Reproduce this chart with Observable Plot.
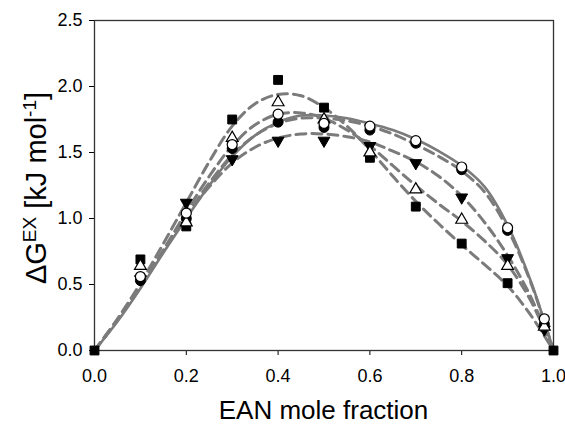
<!DOCTYPE html>
<html><head><meta charset="utf-8">
<script src="https://cdn.jsdelivr.net/npm/d3@7"></script>
<script src="https://cdn.jsdelivr.net/npm/@observablehq/plot@0.6"></script>
<style>body{margin:0;background:#fff;}</style>
</head><body><div id="chart"></div>
<script>
// measured points
const xMeas = [0, 0.1, 0.2, 0.3, 0.4, 0.5, 0.6, 0.7, 0.8, 0.9, 0.98, 1.0];
const filledCircle = [null, 0.53, 1.00, 1.53, 1.73, 1.69, 1.67, 1.57, 1.37, 0.91, 0.20, null];
const openCircle   = [null, 0.56, 1.04, 1.56, 1.79, 1.72, 1.70, 1.59, 1.39, 0.93, 0.24, null];
const invTriangle  = [null, 0.54, 1.12, 1.45, 1.59, 1.59, 1.55, 1.42, 1.16, 0.70, 0.16, null];
const openTriangle = [null, 0.64, 0.97, 1.61, 1.88, 1.75, 1.50, 1.22, 0.99, 0.64, 0.18, null];
const square       = [0, 0.69, 0.94, 1.75, 2.05, 1.84, 1.46, 1.09, 0.81, 0.51, null, 0];

// fitted curves
const xFit = [0, 0.05, 0.1, 0.15, 0.2, 0.25, 0.3, 0.35, 0.4, 0.45, 0.5, 0.55, 0.6, 0.65, 0.7, 0.75, 0.8, 0.85, 0.9, 0.95, 1.0];
const fitSquare   = [0, 0.24, 0.51, 0.81, 1.12, 1.43, 1.70, 1.87, 1.94, 1.93, 1.84, 1.70, 1.52, 1.32, 1.13, 0.96, 0.80, 0.65, 0.49, 0.27, 0];
const fitTriangle = [0, 0.23, 0.48, 0.76, 1.05, 1.32, 1.55, 1.71, 1.79, 1.80, 1.76, 1.67, 1.55, 1.40, 1.25, 1.11, 0.98, 0.83, 0.65, 0.38, 0];
const fitInvTri   = [0, 0.23, 0.49, 0.76, 1.02, 1.24, 1.42, 1.54, 1.61, 1.64, 1.64, 1.62, 1.58, 1.51, 1.43, 1.32, 1.17, 0.97, 0.72, 0.41, 0];
const fitFilledC  = [0, 0.23, 0.48, 0.75, 1.02, 1.27, 1.48, 1.63, 1.72, 1.76, 1.76, 1.74, 1.70, 1.64, 1.56, 1.47, 1.36, 1.20, 0.92, 0.52, 0];
const fitOpenC    = [0, 0.22, 0.47, 0.74, 1.00, 1.25, 1.47, 1.63, 1.73, 1.78, 1.78, 1.76, 1.72, 1.67, 1.60, 1.51, 1.40, 1.24, 0.95, 0.53, 0];

const xTicks = [0, 0.2, 0.4, 0.6, 0.8, 1.0];
const yTicks = [0, 0.5, 1.0, 1.5, 2.0, 2.5];

const pts = ys => xMeas.map((x, i) => ({x, y: ys[i]})).filter(d => d.y != null);
const fit = ys => xFit.map((x, i) => ({x, y: ys[i]}));

const triangleDown = {
  draw(context, size) {
    const sqrt3 = Math.sqrt(3);
    const y = -Math.sqrt(size / (sqrt3 * 3));
    context.moveTo(0, -y * 2);
    context.lineTo(-sqrt3 * y, y);
    context.lineTo(sqrt3 * y, y);
    context.closePath();
  }
};

const gray = "#7b7b7b";
const dashed = {stroke: gray, strokeWidth: 3, strokeDasharray: "10,6", curve: "catmull-rom"};

const chart = Plot.plot({
  width: 565, height: 425,
  marginLeft: 94, marginRight: 12, marginTop: 20, marginBottom: 75,
  style: {fontFamily: "Liberation Sans, Arial, sans-serif", fontSize: "18px", color: "#000", background: "#fff"},
  x: {domain: [0, 1], ticks: xTicks, tickFormat: d3.format(".1f"), label: null, tickSize: 5, tickPadding: 14},
  y: {domain: [0, 2.5], ticks: yTicks, tickFormat: d3.format(".1f"), label: null, tickSize: 5, tickPadding: 7},
  marks: [
    Plot.line(fit(fitSquare), {x: "x", y: "y", ...dashed}),
    Plot.line(fit(fitTriangle), {x: "x", y: "y", ...dashed}),
    Plot.line(fit(fitInvTri), {x: "x", y: "y", ...dashed}),
    Plot.line(fit(fitFilledC), {x: "x", y: "y", ...dashed}),
    Plot.line(fit(fitOpenC), {x: "x", y: "y", stroke: gray, strokeWidth: 2.6, curve: "catmull-rom"}),
    Plot.frame({stroke: "#333", strokeWidth: 1.3}),
    Plot.dot(pts(invTriangle), {x: "x", y: "y", symbol: triangleDown, r: 4.4, fill: "#000", stroke: "#000", strokeWidth: 1}),
    Plot.dot(pts(filledCircle), {x: "x", y: "y", symbol: "circle", r: 5, fill: "#000", stroke: "#000", strokeWidth: 1}),
    Plot.dot(pts(square), {x: "x", y: "y", symbol: "square", r: 5, fill: "#000", stroke: "#000", strokeWidth: 1}),
    Plot.dot(pts(openTriangle), {x: "x", y: "y", symbol: "triangle", r: 4.4, fill: "#fff", stroke: "#000", strokeWidth: 1.2}),
    Plot.dot(pts(openCircle), {x: "x", y: "y", symbol: "circle", r: 5, fill: "#fff", stroke: "#000", strokeWidth: 1.2})
  ]
});
document.getElementById("chart").appendChild(chart);

const svg = d3.select(chart);
svg.append("text")
  .attr("x", (94 + 553) / 2).attr("y", 419)
  .attr("text-anchor", "middle")
  .attr("font-family", "Liberation Sans, Arial, sans-serif")
  .attr("font-size", 26).attr("fill", "#000")
  .text("EAN mole fraction");
const yl = svg.append("text")
  .attr("transform", "translate(46,188) rotate(-90)")
  .attr("text-anchor", "middle")
  .attr("font-family", "Liberation Sans, Arial, sans-serif")
  .attr("font-size", 29).attr("fill", "#000");
yl.append("tspan").text("ΔG");
yl.append("tspan").attr("font-size", 19).attr("baseline-shift", "super").text("EX");
yl.append("tspan").text(" [kJ mol");
yl.append("tspan").attr("font-size", 19).attr("baseline-shift", "super").text("-1");
yl.append("tspan").text("]");
</script>
</body></html>
